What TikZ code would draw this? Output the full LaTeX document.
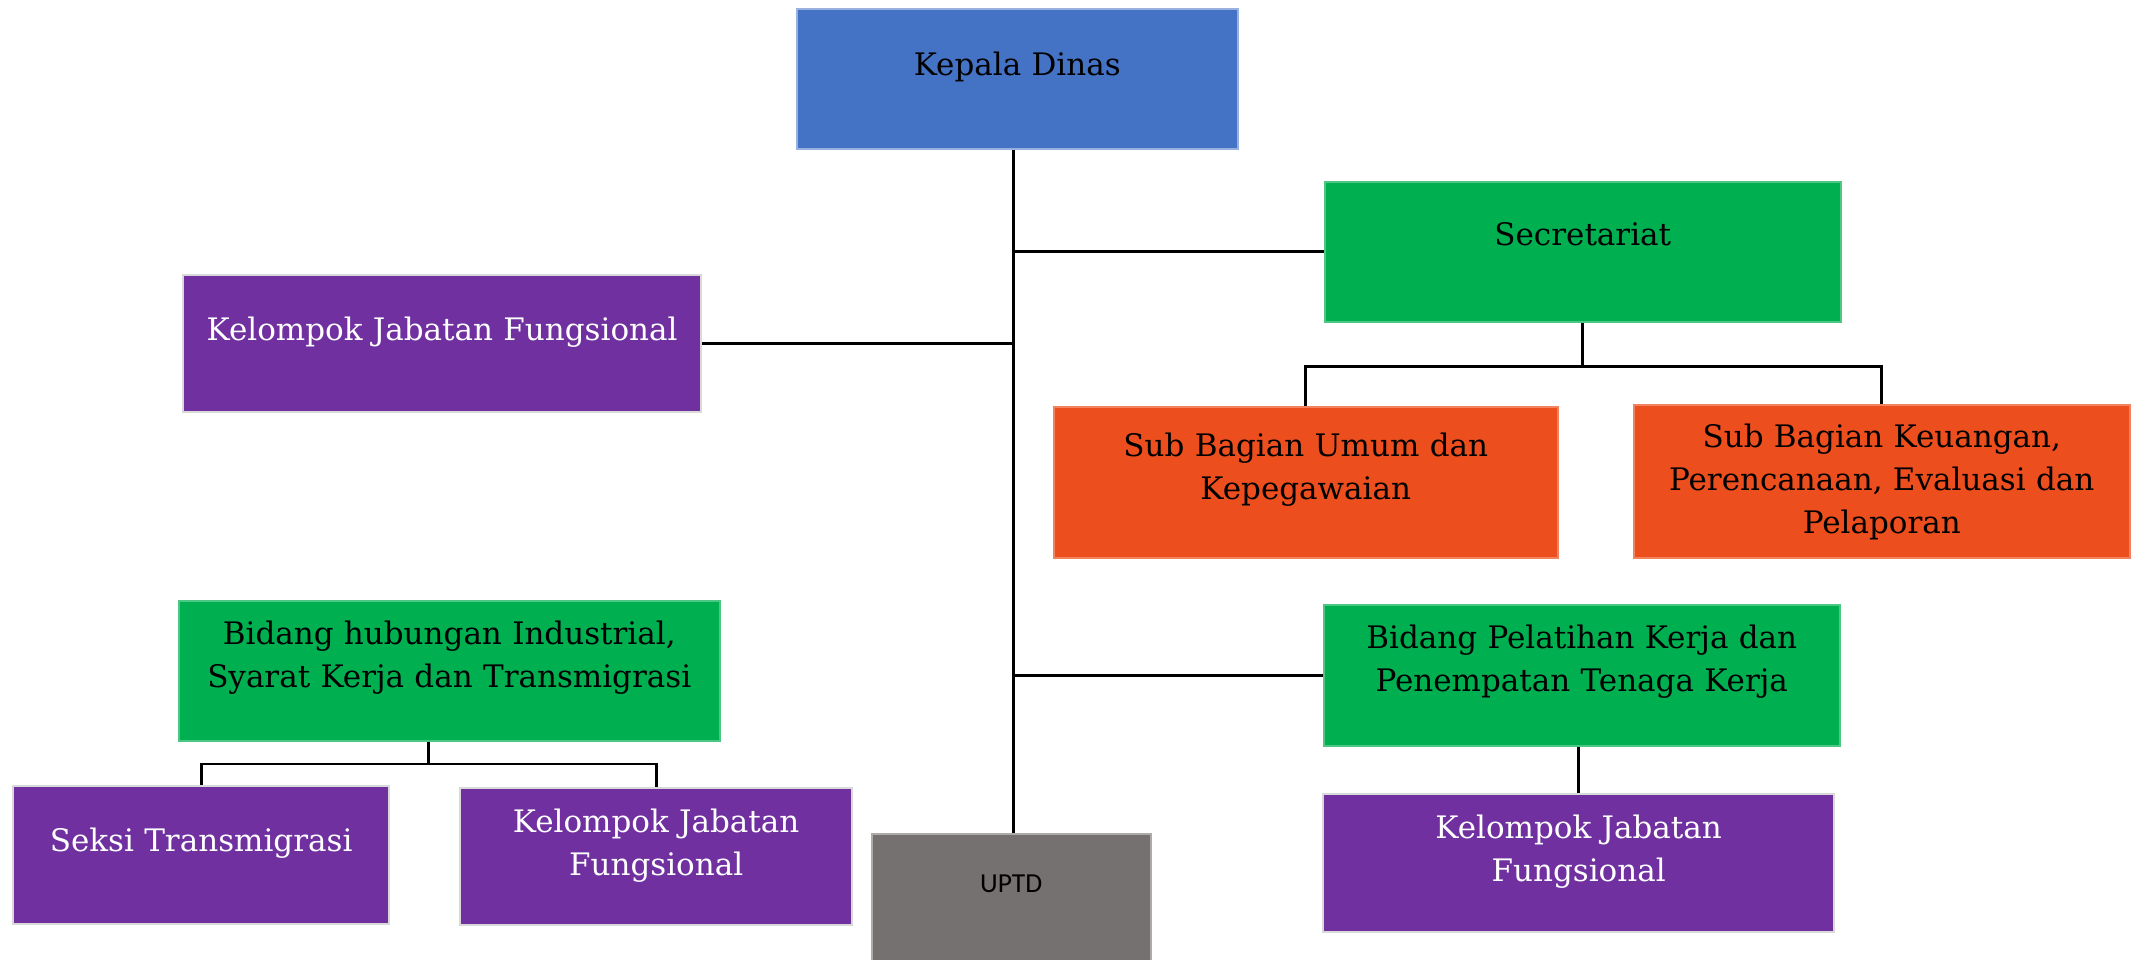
\documentclass[tikz,border=0pt]{standalone}
\usepackage{fontspec}
\setmainfont{DejaVu Serif}
\newfontfamily\uptdfont{Carlito}
\usetikzlibrary{calc}

\definecolor{headblue}{HTML}{4472C4}
\definecolor{unitgreen}{HTML}{00B050}
\definecolor{subred}{RGB}{236,78,30}
\definecolor{groupviolet}{HTML}{7030A0}
\definecolor{uptdgray}{HTML}{767171}

\tikzset{
  blk/.style={anchor=north west, inner sep=0pt, align=center, line width=0.6pt,
    font=\fontsize{12.4}{17.2}\selectfont},
  head/.style={blk, fill=headblue, draw=headblue!55!white},
  unit/.style={blk, fill=unitgreen, draw=unitgreen!70!white},
  sub/.style={blk, fill=subred, draw=subred!70!white},
  group/.style={blk, fill=groupviolet, draw=black!15, line width=0.9pt, text=white},
  link/.style={line width=1.1pt}
}

\begin{document}
\begin{tikzpicture}[x=0.4pt, y=-0.4pt]
  \useasboundingbox (0,0) rectangle (2134,960);

  \node (kepala) [head, text width=176.4pt, text height=26.8pt, text depth=29.2pt] at (796,8) {Kepala Dinas};
  \node (sek) [unit, text width=206.4pt, text height=25.6pt, text depth=30.4pt] at (1324,181) {Secretariat};
  \node (kjfa) [group, text width=207.2pt, text height=26pt, text depth=28.8pt] at (182,274) {Kelompok Jabatan Fungsional};
  \node (umum) [sub, text width=201.6pt, text height=20pt, text depth=40.4pt] at (1053,406) {Sub Bagian Umum dan\\Kepegawaian};
  \node (keu) [sub, text width=198.4pt, text height=17.2pt, text depth=44pt] at (1633,404) {Sub Bagian Keuangan,\\Perencanaan, Evaluasi dan\\Pelaporan};
  \node (bpk) [unit, text width=206.4pt, text height=17.6pt, text depth=38.8pt] at (1323,604) {Bidang Pelatihan Kerja dan\\Penempatan Tenaga Kerja};
  \node (bhi) [unit, text width=216.4pt, text height=17.6pt, text depth=38.4pt] at (178,600) {Bidang hubungan Industrial,\\Syarat Kerja dan Transmigrasi};
  \node (seksi) [group, text width=150.4pt, text height=26pt, text depth=29.2pt] at (12,785) {Seksi Transmigrasi};
  \node (kjfb) [group, text width=156.8pt, text height=17.6pt, text depth=37.2pt] at (459,787) {Kelompok Jabatan\\Fungsional};
  \node (kjfc) [group, text width=204.4pt, text height=17.6pt, text depth=37.6pt] at (1322,793) {Kelompok Jabatan\\Fungsional};
  \node (uptd) [blk, fill=uptdgray, draw=uptdgray!60!white, font=\uptdfont\fontsize{11}{13}\selectfont,
    text width=111.6pt, text height=23.6pt, text depth=27.2pt] at (871,833) {UPTD};

  % main line
  \coordinate (spine) at ($(kepala.south)+(-4,0)$);
  \draw [link] (spine) -- (spine |- uptd.north);
  \draw [link] (sek.west) -- (sek.west -| spine);
  \draw [link] (kjfa.east) -- (kjfa.east -| spine);
  \draw [link] (bpk.west) -- (bpk.west -| spine);

  % secretariat
  \draw [link] (sek.south) -- ++(0,44) coordinate (sekfork);
  \draw [link] (umum.north) |- (sekfork) -| (keu.north);

  % bidang hubungan industrial
  \coordinate (bhifork) at ($(seksi.north)!0.5!(kjfb.north)+(0,-22)$);
  \draw [link] (seksi.north) |- (bhifork) -| (kjfb.north);
  \draw [link] (bhifork) -- (bhifork |- bhi.south);

  % bidang pelatihan
  \draw [link] (kjfc.north) -- (kjfc.north |- bpk.south);
\end{tikzpicture}
\end{document}
